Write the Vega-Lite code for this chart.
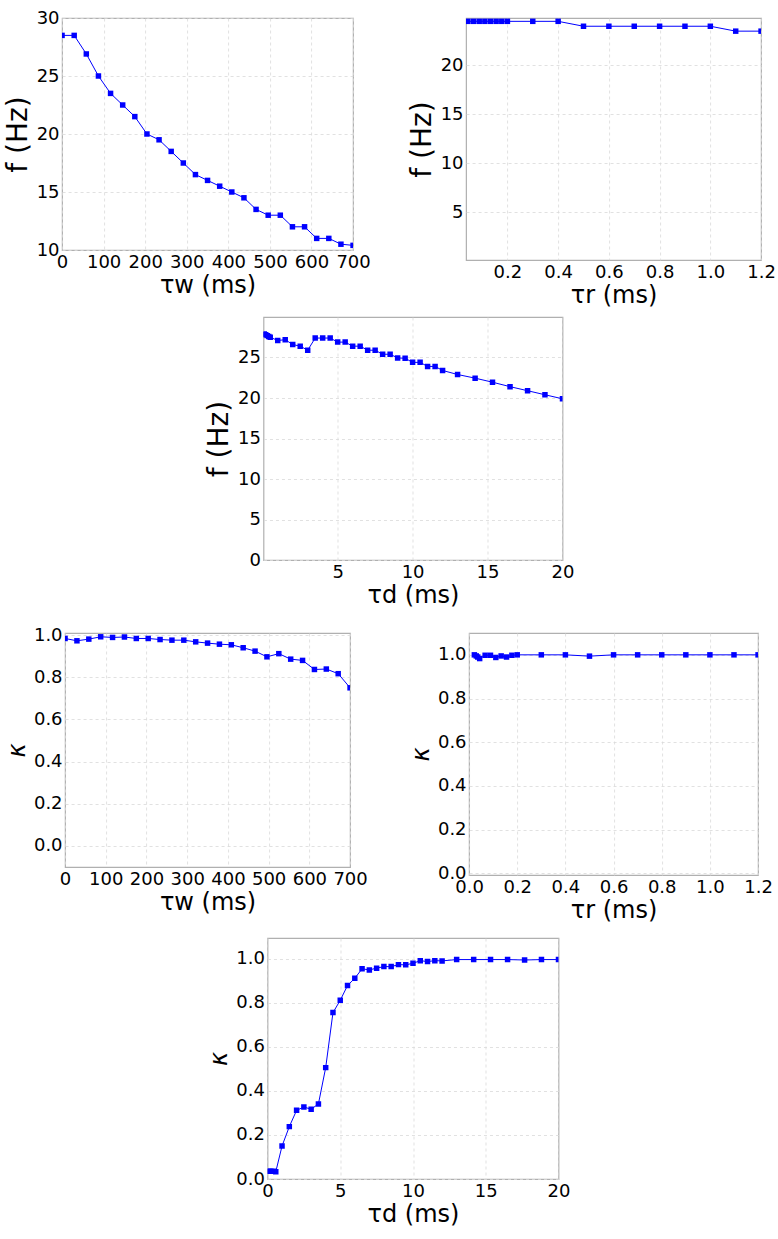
{
  "$schema": "https://vega.github.io/schema/vega-lite/v6.json",
  "background": "white",
  "padding": {"left": 3, "top": 8, "right": 0, "bottom": 0},
  "config": {
    "view": {"stroke": "#b0b0b0", "strokeWidth": 1.2},
    "axis": {"domain": false, "ticks": false, "grid": true, "gridColor": "#d9d9d9", "gridDash": [3, 3], "gridWidth": 0.8, "labelFont": "DejaVu Sans", "labelFontSize": 18, "labelColor": "#000000", "labelPadding": 3, "labelFlush": false, "labelOverlap": false, "titleFont": "DejaVu Sans", "titleFontWeight": "normal", "titleColor": "#000000"},
    "axisX": {"titleFontSize": 24, "titlePadding": 2},
    "axisY": {"titleFontSize": 28, "titlePadding": 4}
  },
  "datasets": {
    "p1": [
      {"x": 0, "y": 28.5}, {"x": 29.17, "y": 28.5}, {"x": 58.33, "y": 26.9}, {"x": 87.5, "y": 25.0}, {"x": 116.67, "y": 23.5},
      {"x": 145.83, "y": 22.5}, {"x": 175, "y": 21.5}, {"x": 204.17, "y": 20.0}, {"x": 233.33, "y": 19.5}, {"x": 262.5, "y": 18.5},
      {"x": 291.67, "y": 17.5}, {"x": 320.83, "y": 16.5}, {"x": 350, "y": 16.0}, {"x": 379.17, "y": 15.5}, {"x": 408.33, "y": 15.0},
      {"x": 437.5, "y": 14.5}, {"x": 466.67, "y": 13.5}, {"x": 495.83, "y": 13.0}, {"x": 525, "y": 13.0}, {"x": 554.17, "y": 12.0},
      {"x": 583.33, "y": 12.0}, {"x": 612.5, "y": 11.0}, {"x": 641.67, "y": 11.0}, {"x": 670.83, "y": 10.5}, {"x": 700, "y": 10.4}
    ],
    "p2": [
      {"x": 0.0444, "y": 24.45}, {"x": 0.0667, "y": 24.45}, {"x": 0.0889, "y": 24.45}, {"x": 0.1111, "y": 24.45}, {"x": 0.1333, "y": 24.45},
      {"x": 0.1556, "y": 24.45}, {"x": 0.1778, "y": 24.45}, {"x": 0.2, "y": 24.45}, {"x": 0.3, "y": 24.45}, {"x": 0.4, "y": 24.45},
      {"x": 0.5, "y": 23.95}, {"x": 0.6, "y": 23.95}, {"x": 0.7, "y": 23.95}, {"x": 0.8, "y": 23.95}, {"x": 0.9, "y": 23.95},
      {"x": 1.0, "y": 23.95}, {"x": 1.1, "y": 23.45}, {"x": 1.2, "y": 23.45}
    ],
    "p3": [
      {"x": 0.1, "y": 27.9}, {"x": 0.2, "y": 27.8}, {"x": 0.3, "y": 27.7}, {"x": 0.4, "y": 27.6}, {"x": 0.5, "y": 27.5},
      {"x": 1.0, "y": 27.1}, {"x": 1.5, "y": 27.2}, {"x": 2.0, "y": 26.6}, {"x": 2.5, "y": 26.4}, {"x": 3.0, "y": 25.9},
      {"x": 3.5, "y": 27.4}, {"x": 4.0, "y": 27.4}, {"x": 4.5, "y": 27.4}, {"x": 5.0, "y": 26.9}, {"x": 5.5, "y": 26.9},
      {"x": 6.0, "y": 26.4}, {"x": 6.5, "y": 26.4}, {"x": 7.0, "y": 25.9}, {"x": 7.5, "y": 25.9}, {"x": 8.0, "y": 25.4},
      {"x": 8.5, "y": 25.4}, {"x": 9.0, "y": 24.95}, {"x": 9.5, "y": 24.9}, {"x": 10.0, "y": 24.4}, {"x": 10.5, "y": 24.4},
      {"x": 11.0, "y": 23.9}, {"x": 11.5, "y": 23.9}, {"x": 12.0, "y": 23.4}, {"x": 13.0, "y": 22.9}, {"x": 14.17, "y": 22.45},
      {"x": 15.33, "y": 21.95}, {"x": 16.5, "y": 21.4}, {"x": 17.67, "y": 20.9}, {"x": 18.83, "y": 20.4}, {"x": 20.0, "y": 19.9}
    ],
    "p4": [
      {"x": 0, "y": 0.984}, {"x": 29.17, "y": 0.973}, {"x": 58.33, "y": 0.981}, {"x": 87.5, "y": 0.992}, {"x": 116.67, "y": 0.989},
      {"x": 145.83, "y": 0.991}, {"x": 175, "y": 0.984}, {"x": 204.17, "y": 0.984}, {"x": 233.33, "y": 0.979}, {"x": 262.5, "y": 0.976},
      {"x": 291.67, "y": 0.976}, {"x": 320.83, "y": 0.968}, {"x": 350, "y": 0.962}, {"x": 379.17, "y": 0.957}, {"x": 408.33, "y": 0.954},
      {"x": 437.5, "y": 0.94}, {"x": 466.67, "y": 0.924}, {"x": 495.83, "y": 0.897}, {"x": 525, "y": 0.912}, {"x": 554.17, "y": 0.886},
      {"x": 583.33, "y": 0.88}, {"x": 612.5, "y": 0.837}, {"x": 641.67, "y": 0.839}, {"x": 670.83, "y": 0.817}, {"x": 700, "y": 0.75}
    ],
    "p5": [
      {"x": 0.022, "y": 1.0}, {"x": 0.03, "y": 0.995}, {"x": 0.036, "y": 0.99}, {"x": 0.044, "y": 0.983}, {"x": 0.0667, "y": 0.998},
      {"x": 0.0889, "y": 0.998}, {"x": 0.1111, "y": 0.988}, {"x": 0.1333, "y": 0.995}, {"x": 0.1556, "y": 0.99}, {"x": 0.1778, "y": 0.998},
      {"x": 0.2, "y": 1.0}, {"x": 0.3, "y": 1.0}, {"x": 0.4, "y": 1.0}, {"x": 0.5, "y": 0.994}, {"x": 0.6, "y": 1.0},
      {"x": 0.7, "y": 1.0}, {"x": 0.8, "y": 1.0}, {"x": 0.9, "y": 1.0}, {"x": 1.0, "y": 1.0}, {"x": 1.1, "y": 1.0}, {"x": 1.2, "y": 1.0}
    ],
    "p6": [
      {"x": 0.07, "y": 0.035}, {"x": 0.23, "y": 0.035}, {"x": 0.41, "y": 0.035}, {"x": 0.57, "y": 0.033},
      {"x": 1.0, "y": 0.15}, {"x": 1.5, "y": 0.238}, {"x": 2.0, "y": 0.312}, {"x": 2.5, "y": 0.327}, {"x": 3.0, "y": 0.317},
      {"x": 3.5, "y": 0.341}, {"x": 4.0, "y": 0.506}, {"x": 4.5, "y": 0.756}, {"x": 5.0, "y": 0.812}, {"x": 5.5, "y": 0.879},
      {"x": 6.0, "y": 0.912}, {"x": 6.5, "y": 0.955}, {"x": 7.0, "y": 0.95}, {"x": 7.5, "y": 0.958}, {"x": 8.0, "y": 0.965},
      {"x": 8.5, "y": 0.965}, {"x": 9.0, "y": 0.974}, {"x": 9.5, "y": 0.973}, {"x": 10.0, "y": 0.98}, {"x": 10.5, "y": 0.992},
      {"x": 11.0, "y": 0.988}, {"x": 11.5, "y": 0.992}, {"x": 12.0, "y": 0.991}, {"x": 13.0, "y": 0.997}, {"x": 14.17, "y": 0.997},
      {"x": 15.33, "y": 0.997}, {"x": 16.5, "y": 0.997}, {"x": 17.67, "y": 0.995}, {"x": 18.83, "y": 0.997}, {"x": 20.0, "y": 0.997}
    ]
  },
  "center": true,
  "spacing": 17,
  "vconcat": [
    {
      "center": true,
      "spacing": 8,
      "vconcat": [
        {
          "spacing": 36,
          "hconcat": [
            {
              "width": 291, "height": 232,
              "data": {"name": "p1"},
              "encoding": {
                "x": {"field": "x", "type": "quantitative", "scale": {"domain": [0, 700], "nice": false, "zero": false}, "axis": {"title": "τw (ms)", "values": [0, 100, 200, 300, 400, 500, 600, 700]}},
                "y": {"field": "y", "type": "quantitative", "scale": {"domain": [10, 30], "nice": false, "zero": false}, "axis": {"title": "f (Hz)", "values": [10, 15, 20, 25, 30]}}
              },
              "layer": [
                {"mark": {"type": "line", "color": "#0000ff", "strokeWidth": 1, "clip": true}, "encoding": {}},
                {"mark": {"type": "point", "shape": "square", "filled": true, "size": 30, "color": "#0000ff", "opacity": 1, "clip": true}, "encoding": {}}
              ]
            },
            {
              "width": 295, "height": 242,
              "data": {"name": "p2"},
              "encoding": {
                "x": {"field": "x", "type": "quantitative", "scale": {"domain": [0.037, 1.2], "nice": false, "zero": false}, "axis": {"title": "τr (ms)", "values": [0.2, 0.4, 0.6, 0.8, 1.0, 1.2], "format": ".1f"}},
                "y": {"field": "y", "type": "quantitative", "scale": {"domain": [0.14, 24.79], "nice": false, "zero": false}, "axis": {"title": "f (Hz)", "values": [5, 10, 15, 20]}}
              },
              "layer": [
                {"mark": {"type": "line", "color": "#0000ff", "strokeWidth": 1, "clip": true}, "encoding": {}},
                {"mark": {"type": "point", "shape": "square", "filled": true, "size": 30, "color": "#0000ff", "opacity": 1, "clip": true}, "encoding": {}}
              ]
            }
          ]
        },
        {
          "width": 299, "height": 243,
          "data": {"name": "p3"},
          "encoding": {
            "x": {"field": "x", "type": "quantitative", "scale": {"domain": [0.05, 20], "nice": false, "zero": false}, "axis": {"title": "τd (ms)", "values": [5, 10, 15, 20]}},
            "y": {"field": "y", "type": "quantitative", "scale": {"domain": [0, 30], "nice": false, "zero": false}, "axis": {"title": "f (Hz)", "values": [0, 5, 10, 15, 20, 25]}}
          },
          "layer": [
            {"mark": {"type": "line", "color": "#0000ff", "strokeWidth": 1, "clip": true}, "encoding": {}},
            {"mark": {"type": "point", "shape": "square", "filled": true, "size": 30, "color": "#0000ff", "opacity": 1, "clip": true}, "encoding": {}}
          ]
        }
      ]
    },
    {
      "center": true,
      "spacing": 14,
      "vconcat": [
        {
          "spacing": 40,
          "hconcat": [
            {
              "width": 285, "height": 234,
              "data": {"name": "p4"},
              "encoding": {
                "x": {"field": "x", "type": "quantitative", "scale": {"domain": [0, 700], "nice": false, "zero": false}, "axis": {"title": "τw (ms)", "values": [0, 100, 200, 300, 400, 500, 600, 700]}},
                "y": {"field": "y", "type": "quantitative", "scale": {"domain": [-0.1, 1.01], "nice": false, "zero": false}, "axis": {"title": "κ", "titleFontStyle": "italic", "titleFontSize": 24, "values": [0, 0.2, 0.4, 0.6, 0.8, 1.0], "format": ".1f"}}
              },
              "layer": [
                {"mark": {"type": "line", "color": "#0000ff", "strokeWidth": 1, "clip": true}, "encoding": {}},
                {"mark": {"type": "point", "shape": "square", "filled": true, "size": 30, "color": "#0000ff", "opacity": 1, "clip": true}, "encoding": {}}
              ]
            },
            {
              "width": 289, "height": 242,
              "data": {"name": "p5"},
              "encoding": {
                "x": {"field": "x", "type": "quantitative", "scale": {"domain": [0, 1.2], "nice": false, "zero": false}, "axis": {"title": "τr (ms)", "values": [0, 0.2, 0.4, 0.6, 0.8, 1.0, 1.2], "format": ".1f"}},
                "y": {"field": "y", "type": "quantitative", "scale": {"domain": [-0.008, 1.1], "nice": false, "zero": false}, "axis": {"title": "κ", "titleFontStyle": "italic", "titleFontSize": 24, "values": [0, 0.2, 0.4, 0.6, 0.8, 1.0], "format": ".1f"}}
              },
              "layer": [
                {"mark": {"type": "line", "color": "#0000ff", "strokeWidth": 1, "clip": true}, "encoding": {}},
                {"mark": {"type": "point", "shape": "square", "filled": true, "size": 30, "color": "#0000ff", "opacity": 1, "clip": true}, "encoding": {}}
              ]
            }
          ]
        },
        {
          "width": 291, "height": 241,
          "data": {"name": "p6"},
          "encoding": {
            "x": {"field": "x", "type": "quantitative", "scale": {"domain": [0, 20], "nice": false, "zero": false}, "axis": {"title": "τd (ms)", "values": [0, 5, 10, 15, 20]}},
            "y": {"field": "y", "type": "quantitative", "scale": {"domain": [0, 1.095], "nice": false, "zero": false}, "axis": {"title": "κ", "titleFontStyle": "italic", "titleFontSize": 24, "values": [0, 0.2, 0.4, 0.6, 0.8, 1.0], "format": ".1f"}}
          },
          "layer": [
            {"mark": {"type": "line", "color": "#0000ff", "strokeWidth": 1, "clip": true}, "encoding": {}},
            {"mark": {"type": "point", "shape": "square", "filled": true, "size": 30, "color": "#0000ff", "opacity": 1, "clip": true}, "encoding": {}}
          ]
        }
      ]
    }
  ]
}
